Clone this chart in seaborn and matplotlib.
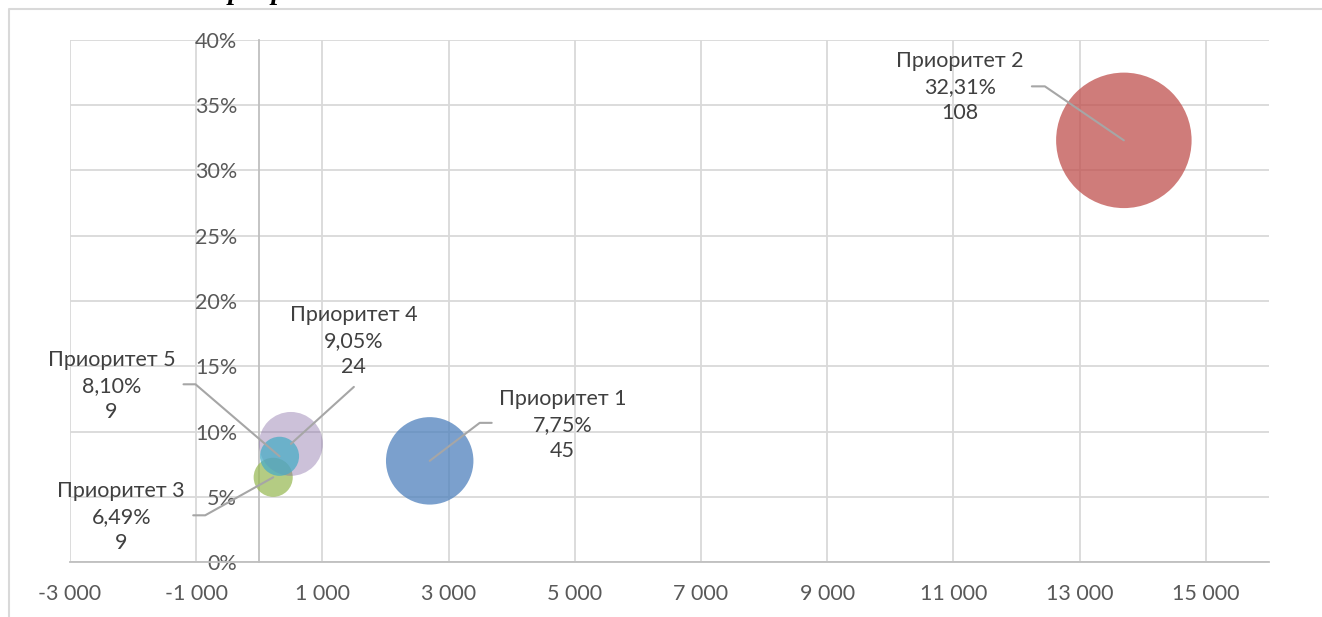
import numpy as np
import pandas as pd
import seaborn as sns
import matplotlib.pyplot as plt
from matplotlib.lines import Line2D
from matplotlib.transforms import IdentityTransform
from matplotlib.ticker import FuncFormatter, MultipleLocator

# data
names = ["Приоритет 1", "Приоритет 2", "Приоритет 3", "Приоритет 4", "Приоритет 5"]
x_vals = [2700, 13700, 220, 500, 320]
y_vals = [7.75, 32.31, 6.49, 9.05, 8.10]
bubble = [45, 108, 9, 24, 9]
base_colors = ["#4F81BD", "#C0504D", "#9BBB59", "#8064A2", "#4BACC6"]
alphas = [0.75, 0.75, 0.75, 0.4, 0.75]

# label placement, pixel offsets from bubble centre (y down): label, leader start, elbow
label_off = [(133, -36), (-164, -53), (-152, 40), (63, -103), (-168, -70)]
lead_start = [(62, -38), (-92, -54), (-80, 38), (63, -57), (-96, -72)]
lead_elbow = [(50, -38), (-79, -54), (-68, 38), (63, -57), (-84, -72)]

W, H = 1322, 617
sns.set_theme(style="white")
plt.rcParams["font.family"] = ["Lato", "DejaVu Sans"]

fig = plt.figure(figsize=(W / 100, H / 100), dpi=100)
ax = fig.add_axes([70 / W, (H - 562) / H, (1269 - 70) / W, (562 - 40) / H])

df = pd.DataFrame({"name": names, "x": x_vals, "y": [v / 100 for v in y_vals], "size": bubble})
pal = {n: (*plt.matplotlib.colors.to_rgb(c), a) for n, c, a in zip(names, base_colors, alphas)}

K = 88.1  # area per bubble unit in pt^2
sns.scatterplot(data=df, x="x", y="y", hue="name", palette=pal, size="size",
                sizes=(9 * K, 108 * K), size_norm=(9, 108), linewidth=0,
                legend=False, ax=ax, zorder=3)

ax.set_xlim(-3000, 16000)
ax.set_ylim(0, 0.40)
ax.set_xticks(np.arange(-3000, 15001, 2000))
ax.yaxis.set_major_locator(MultipleLocator(0.05))
ax.xaxis.set_major_formatter(FuncFormatter(lambda v, p: f"{int(v):,}".replace(",", " ")))
ax.yaxis.set_major_formatter(FuncFormatter(lambda v, p: f"{v * 100:.0f}%"))
ax.set_xlabel("")
ax.set_ylabel("")

ax.grid(True, color="#D9D9D9", linewidth=1.3)
ax.set_axisbelow(True)
for s in ["top", "right"]:
    ax.spines[s].set_visible(False)
ax.spines["left"].set_position(("data", 0))
ax.spines["left"].set_color("#BFBFBF")
ax.spines["bottom"].set_color("#BFBFBF")
ax.spines["left"].set_linewidth(1.3)
ax.spines["bottom"].set_linewidth(1.3)
ax.tick_params(axis="y", length=0, pad=16, labelsize=15.5, labelcolor="#595959")
ax.tick_params(axis="x", length=0, pad=16, labelsize=15.5, labelcolor="#595959")

# data labels + leader lines
for i, row in df.iterrows():
    txt = f"{row['name']}\n{y_vals[i]:.2f}".replace(".", ",") + f"%\n{row['size']}"
    dx, dy = label_off[i]
    ax.annotate(txt, xy=(row["x"], row["y"]), xytext=(dx * 0.72, -dy * 0.72),
                textcoords="offset points", ha="center", va="center",
                fontsize=15.5, color="#404040", linespacing=1.37, zorder=5)
    cx, cy = ax.transData.transform((row["x"], row["y"]))
    sx, sy = lead_start[i]
    ex, ey = lead_elbow[i]
    fig.add_artist(Line2D([cx + sx, cx + ex, cx], [cy - sy, cy - ey, cy],
                          transform=IdentityTransform(), color="#A6A6A6",
                          linewidth=1.5, zorder=6))

# chart area border
fig.add_artist(Line2D([9, 9, W], [0, H - 9, H - 9], transform=IdentityTransform(),
                      color="#D9D9D9", linewidth=1.5))

# heading cut off at top of picture
fig.text(213 / W, (H + 1) / H, "приоритет", fontsize=20, fontweight="bold",
         fontstyle="italic", family=["Liberation Serif"], va="baseline", color="black")

fig.savefig("out.png", dpi=100)
